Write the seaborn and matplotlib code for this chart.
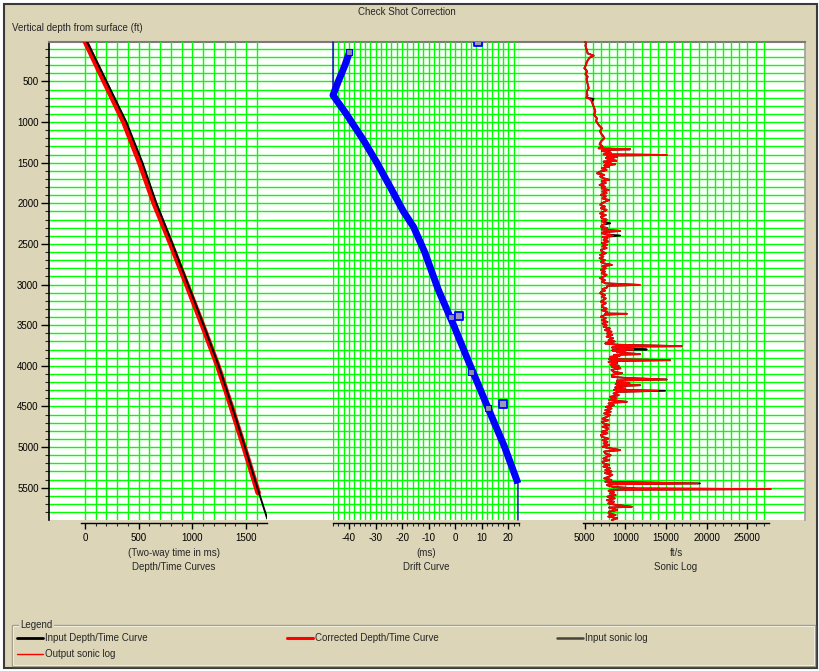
import numpy as np
import pandas as pd
import seaborn as sns
import matplotlib.pyplot as plt
from matplotlib.ticker import MultipleLocator
from matplotlib.lines import Line2D
from matplotlib.patches import Rectangle

# ---- data ----
# depth/time curves (depth in ft, two-way time in ms)
dt_depth = [0, 500, 1000, 1500, 2000, 2500, 3000, 3500, 4000, 4500, 5000, 5500, 5880]
dt_input = [15, 200, 385, 535, 665, 815, 960, 1105, 1245, 1370, 1490, 1605, 1697]
corr_depth = [0, 500, 1000, 1500, 2000, 2500, 3000, 3500, 4000, 4500, 5000, 5560]
dt_corrected = [0, 180, 362, 510, 645, 800, 948, 1095, 1237, 1362, 1482, 1612]

# drift curve (ms)
drift_depth = [140, 300, 500, 670, 900, 1225, 1500, 1840, 2100, 2290, 2600, 3070,
               3500, 4000, 4500, 5000, 5446]
drift_ms = [-39.8, -41.5, -44.0, -46.0, -41.0, -34.5, -29.5, -23.8, -19.5, -15.7,
            -11.5, -6.3, -0.6, 5.7, 12.1, 18.6, 23.6]
drift_line_depth = [15, 670, 900, 1225, 1500, 1840, 2100, 2290, 2600, 3070, 3500,
                    4000, 4500, 5000, 5446, 5897]
drift_line_ms = [-46.0, -46.0, -41.0, -34.5, -29.5, -23.8, -19.5, -15.7, -11.5, -6.3,
                 -0.6, 5.7, 12.1, 18.6, 23.6, 23.6]
shot_depth = [140, 3397, 4073, 4524]
shot_ms = [-39.8, -1.5, 6.0, 12.5]
outlier_depth = [15, 3385, 4475]
outlier_ms = [8.6, 1.5, 17.9]

# sonic log (ft/s), same depth samples for input and output
sonic_depth = [
    15, 32, 60, 93, 125, 155, 183, 208, 230, 257,
    300, 339, 360, 380, 410, 441, 470, 503, 540, 585,
    615, 646, 675, 700, 716, 750, 790, 830, 872, 910,
    954, 985, 1016, 1045, 1077, 1110, 1139, 1170, 1200, 1240,
    1274, 1300, 1323, 1335, 1345, 1356, 1375, 1397, 1405, 1412,
    1417, 1430, 1442, 1454, 1465, 1476, 1487, 1500, 1510, 1520,
    1535, 1550, 1569, 1590, 1610, 1631, 1650, 1670, 1692, 1710,
    1730, 1750, 1774, 1795, 1815, 1836, 1855, 1875, 1897, 1915,
    1940, 1960, 1979, 2000, 2020, 2040, 2060, 2080, 2102, 2125,
    2145, 2165, 2184, 2200, 2220, 2246, 2265, 2287, 2305, 2322,
    2340, 2355, 2369, 2385, 2397, 2415, 2432, 2451, 2470, 2490,
    2512, 2530, 2550, 2575, 2594, 2615, 2635, 2655, 2676, 2700,
    2720, 2740, 2758, 2775, 2800, 2820, 2840, 2860, 2880, 2902,
    2920, 2945, 2963, 2985, 3004, 3015, 3037, 3055, 3075, 3090,
    3107, 3130, 3150, 3170, 3189, 3210, 3230, 3250, 3274, 3295,
    3315, 3335, 3356, 3360, 3370, 3395, 3415, 3438, 3460, 3480,
    3500, 3520, 3540, 3560, 3580, 3602, 3620, 3640, 3660, 3684,
    3700, 3715, 3725, 3740, 3758, 3765, 3774, 3785, 3799, 3810,
    3818, 3828, 3840, 3856, 3865, 3878, 3889, 3905, 3918, 3930,
    3940, 3951, 3965, 3985, 4000, 4012, 4030, 4050, 4074, 4090,
    4110, 4135, 4150, 4168, 4180, 4197, 4215, 4225, 4238, 4250,
    4266, 4280, 4295, 4307, 4320, 4340, 4360, 4381, 4400, 4420,
    4443, 4455, 4463, 4485, 4505, 4525, 4545, 4565, 4585, 4605,
    4627, 4650, 4670, 4690, 4709, 4730, 4750, 4770, 4791, 4810,
    4830, 4850, 4873, 4895, 4915, 4935, 4955, 4975, 4995, 5015,
    5037, 5055, 5078, 5100, 5119, 5140, 5160, 5180, 5201, 5220,
    5240, 5260, 5283, 5300, 5320, 5340, 5365, 5385, 5405, 5427,
    5447, 5458, 5468, 5490, 5509, 5517, 5525, 5537, 5555, 5570,
    5590, 5610, 5630, 5652, 5672, 5692, 5712, 5734, 5744, 5754,
    5775, 5795, 5816, 5835, 5855, 5875, 5898]
sonic_out = [
    5086, 5168, 5100, 5208, 5300, 5372, 6106, 5616, 5450, 5290,
    5150, 4964, 5200, 5290, 5100, 5372, 5250, 5290, 5400, 5494,
    5300, 5290, 5350, 5208, 5600, 5900, 6024, 6200, 6310, 6150,
    6514, 6400, 6596, 6800, 7126, 6900, 7004, 7250, 7412, 7000,
    6840, 7200, 6718, 10594, 7400, 7126, 8200, 7330, 15082, 7900,
    7738, 9000, 7600, 8554, 7800, 8900, 7330, 8200, 7600, 8758,
    7400, 8000, 7126, 7700, 6900, 6514, 7400, 6900, 7330, 8000,
    7100, 7600, 6840, 7500, 7100, 7942, 7200, 7700, 7004, 7600,
    7200, 8000, 7534, 7100, 6922, 7500, 7000, 7700, 7330, 6900,
    7600, 7000, 7126, 7700, 7100, 7600, 7200, 7004, 7800, 7100,
    9370, 7300, 7126, 7900, 8500, 7200, 7800, 7330, 7900, 7100,
    7738, 7200, 7700, 7000, 7126, 7600, 6900, 7300, 6840, 7500,
    7000, 7400, 8350, 7200, 7600, 7004, 7500, 7100, 7700, 7330,
    6900, 7500, 7126, 7600, 11818, 7800, 7738, 7200, 7500, 7000,
    6922, 7500, 7100, 7600, 7330, 7000, 7600, 7200, 7126, 7700,
    7100, 7800, 7534, 10186, 7600, 7000, 7600, 7126, 7800, 7200,
    7700, 7330, 8100, 7500, 8300, 7738, 8400, 7700, 8500, 7942,
    8700, 7800, 7534, 9000, 16918, 8800, 8350, 9800, 11000, 8400,
    10000, 8962, 9600, 11818, 8600, 9300, 8146, 9000, 8000, 15490,
    8500, 7942, 9000, 8200, 9200, 8350, 9400, 8300, 8554, 9600,
    8400, 8350, 10200, 15082, 9000, 8962, 10500, 8800, 11818, 9000,
    8758, 10000, 8600, 14000, 9000, 8554, 9200, 8146, 8900, 8000,
    10186, 8200, 7942, 8600, 7600, 8300, 7534, 8200, 7400, 8100,
    7738, 7200, 7900, 7100, 7330, 8000, 7200, 7900, 7738, 7100,
    7800, 7000, 7126, 7900, 7200, 7800, 7330, 8000, 7200, 8100,
    9370, 7400, 7534, 8200, 7738, 7300, 8000, 7200, 7330, 8000,
    7300, 8100, 7534, 8300, 7500, 8400, 7942, 7400, 8300, 7534,
    18900, 7900, 7738, 8500, 11410, 27900, 8500, 7942, 8600, 8146,
    8800, 7800, 8700, 7738, 8600, 7900, 8900, 10798, 8000, 8350,
    9000, 8000, 7942, 8800, 7900, 9000, 8350]
sonic_in = [
    5086, 5168, 5100, 5208, 5300, 5372, 6106, 5616, 5450, 5290,
    5150, 4964, 5200, 5290, 5100, 5372, 5250, 5290, 5400, 5494,
    5300, 5290, 5350, 5208, 6106, 5900, 6024, 6200, 6310, 6150,
    6514, 6400, 6596, 6800, 7126, 6900, 7004, 7250, 7412, 7000,
    6840, 7200, 6718, 10594, 7400, 7126, 8200, 7330, 15082, 7900,
    7738, 9000, 7600, 8554, 7800, 8900, 7330, 8200, 7600, 8758,
    7400, 8000, 7126, 7700, 6900, 6514, 7400, 6900, 7330, 8000,
    7100, 7600, 6840, 7500, 7100, 7942, 7200, 7700, 7004, 7600,
    7200, 8000, 7534, 7100, 6922, 7500, 7000, 7700, 7330, 6900,
    7600, 7000, 7126, 7700, 7100, 8146, 7200, 7004, 7800, 7100,
    9370, 7300, 7126, 7900, 9370, 7200, 7800, 7330, 7900, 7100,
    7738, 7200, 7700, 7000, 7126, 7600, 6900, 7300, 6840, 7500,
    7000, 7400, 8350, 7200, 7600, 7004, 7500, 7100, 7700, 7330,
    6900, 7500, 7126, 7600, 11600, 7800, 7738, 7200, 7500, 7000,
    6922, 7500, 7100, 7600, 7330, 7000, 7600, 7200, 7126, 7700,
    7100, 7800, 7534, 10186, 7600, 7000, 7600, 7126, 7800, 7200,
    7700, 7330, 8100, 7500, 8300, 7738, 8400, 7700, 8500, 7942,
    8700, 7800, 7534, 9000, 16918, 8800, 8350, 9800, 12634, 8400,
    10000, 8962, 9600, 11818, 8600, 9300, 8146, 9000, 8000, 15490,
    8500, 7942, 9000, 8200, 9200, 8350, 9400, 8300, 8554, 9600,
    8400, 8350, 10200, 15082, 9000, 8962, 10500, 8800, 11818, 9000,
    8758, 10000, 8600, 14878, 9000, 8554, 9200, 8146, 8900, 8000,
    10186, 8200, 7942, 8600, 7600, 8300, 7534, 8200, 7400, 8100,
    7738, 7200, 7900, 7100, 7330, 8000, 7200, 7900, 7738, 7100,
    7800, 7000, 7126, 7900, 7200, 7800, 7330, 8000, 7200, 8100,
    9370, 7400, 7534, 8200, 7738, 7300, 8000, 7200, 7330, 8000,
    7300, 8100, 7534, 8300, 7500, 8400, 7942, 7400, 8300, 7534,
    19162, 7900, 7738, 8500, 11410, 27700, 8500, 7942, 8600, 8146,
    8800, 7800, 8700, 7738, 8600, 7900, 8900, 10798, 8000, 8350,
    9000, 8000, 7942, 8800, 7900, 9000, 8350]

GREEN = "#00FF00"
BEIGE = "#DCD5B7"
W, H = 820, 671
FS = 7


def box(x0, y0, x1, y1):
    # pixel box (top-left origin) -> figure fraction rect
    return [x0 / W, 1 - y1 / H, (x1 - x0) / W, (y1 - y0) / H]


def fx(px):
    return px / W


def fy(py):
    return 1 - py / H


sns.set_theme(style="white")
plt.rcParams["font.family"] = ["Liberation Sans", "DejaVu Sans"]
plt.rcParams["font.size"] = FS
plt.rcParams["axes.unicode_minus"] = False

fig = plt.figure(figsize=(8.2, 6.71), dpi=100, facecolor="white")
fig.add_artist(Rectangle((fx(4), fy(668)), fx(813), 664 / H, transform=fig.transFigure,
                         facecolor=BEIGE, edgecolor="#3A3A3A", lw=1.5, zorder=-5))

# background panel carrying the depth axis and horizontal grid
ax0 = fig.add_axes(box(49, 42, 805, 520))
ax0.set_facecolor("white")
ax0.set_xlim(0, 1)
ax0.set_ylim(5897, 15)
ax0.set_xticks([])
ax0.yaxis.set_major_locator(MultipleLocator(500))
ax0.yaxis.set_minor_locator(MultipleLocator(100))
ax0.grid(axis="y", which="both", color=GREEN, lw=1.0)
ax0.tick_params(axis="y", which="major", direction="out", length=6, width=1,
                labelsize=FS, pad=1.5, left=True, colors="black")
ax0.tick_params(axis="y", which="minor", direction="out", length=3, width=0.8, left=True)
ax0.spines["left"].set_color("black")
ax0.spines["left"].set_linewidth(1.2)
ax0.spines["top"].set_color("#7A7A7A")
ax0.spines["top"].set_linewidth(1.5)
ax0.spines["right"].set_color("#A0A0A0")
ax0.spines["bottom"].set_visible(False)


def track(px0, px1, xlim, major, minor, label):
    ax = fig.add_axes(box(px0, 42, px1, 520))
    ax.set_facecolor("none")
    ax.set_xlim(*xlim)
    ax.set_ylim(5897, 15)
    ax.set_yticks([])
    for s in ["top", "right", "left"]:
        ax.spines[s].set_visible(False)
    ax.spines["bottom"].set_position(("outward", 2.4))
    ax.spines["bottom"].set_color("black")
    ax.spines["bottom"].set_linewidth(1.0)
    ax.xaxis.set_major_locator(MultipleLocator(major))
    ax.xaxis.set_minor_locator(MultipleLocator(minor))
    ax.grid(axis="x", which="both", color=GREEN, lw=1.0)
    ax.tick_params(axis="x", which="major", direction="out", length=4, width=1,
                   labelsize=FS, pad=3, bottom=True, colors="black")
    ax.tick_params(axis="x", which="minor", direction="out", length=2.2, width=0.8,
                   bottom=True)
    ax.set_xlabel(label, fontsize=FS, linespacing=1.55, labelpad=3.5)
    return ax


ax1 = track(81, 267, (-37, 1695), 500, 100, "(Two-way time in ms)\nDepth/Time Curves")
ax2 = track(333, 519, (-46, 24), 10, 2, "(ms)\nDrift Curve")
ax3 = track(583, 769, (4800, 27650), 5000, 1000, "ft/s\nSonic Log")

# depth/time curves
sns.lineplot(x=dt_corrected, y=corr_depth, sort=False, estimator=None, ax=ax1,
             color="#FF0000", lw=4.0)
sns.lineplot(x=dt_input, y=dt_depth, sort=False, estimator=None, ax=ax1,
             color="black", lw=1.4)

# drift curve
sns.lineplot(x=drift_line_ms, y=drift_line_depth, sort=False, estimator=None, ax=ax2,
             color="#0000B0", lw=1.0, clip_on=False)
sns.lineplot(x=drift_ms, y=drift_depth, sort=False, estimator=None, ax=ax2,
             color="#0000FF", lw=5.0, clip_on=False, solid_capstyle="butt")
sns.scatterplot(x=shot_ms, y=shot_depth, ax=ax2, marker="s", s=14,
                color="#8C8CA8", edgecolor="#0000FF", linewidth=0.8, zorder=4)
sns.scatterplot(x=outlier_ms, y=outlier_depth, ax=ax2, marker="s", s=26,
                color="#9A9AB8", edgecolor="#0000FF", linewidth=1.3, zorder=4)

# sonic log
sns.lineplot(x=sonic_in, y=sonic_depth, sort=False, estimator=None, ax=ax3,
             color="black", lw=1.3, clip_on=False)
sns.lineplot(x=sonic_out, y=sonic_depth, sort=False, estimator=None, ax=ax3,
             color="#FF0000", lw=1.3, clip_on=False)

# titles
fig.text(fx(407), fy(12), "Check Shot Correction", ha="center", va="center", fontsize=FS)
fig.text(fx(12), fy(28), "Vertical depth from surface (ft)", ha="left", va="center",
         fontsize=FS)

# legend group box
fig.add_artist(Rectangle((fx(12), fy(666)), fx(803), 41 / H, transform=fig.transFigure,
                         facecolor="none", edgecolor="#A29E8A", lw=1.0))
fig.add_artist(Rectangle((fx(13), fy(665)), fx(801), 39 / H, transform=fig.transFigure,
                         facecolor="none", edgecolor="#F6F4EA", lw=0.6))
fig.text(fx(20), fy(625), "Legend", ha="left", va="center", fontsize=FS,
         bbox=dict(facecolor=BEIGE, edgecolor="none", pad=1))

legend_items = [
    (17, 638, "black", 2.0, "Input Depth/Time Curve"),
    (287, 638, "#FF0000", 2.2, "Corrected Depth/Time Curve"),
    (557, 638, "#45453A", 1.8, "Input sonic log"),
    (17, 654, "#FF0000", 1.0, "Output sonic log"),
]
for px, py, col, lw, txt in legend_items:
    fig.add_artist(Line2D([fx(px), fx(px + 26)], [fy(py), fy(py)], color=col, lw=lw,
                          transform=fig.transFigure))
    fig.text(fx(px + 28), fy(py), txt, ha="left", va="center", fontsize=FS)

fig.savefig("out.png", dpi=100, facecolor=fig.get_facecolor())
